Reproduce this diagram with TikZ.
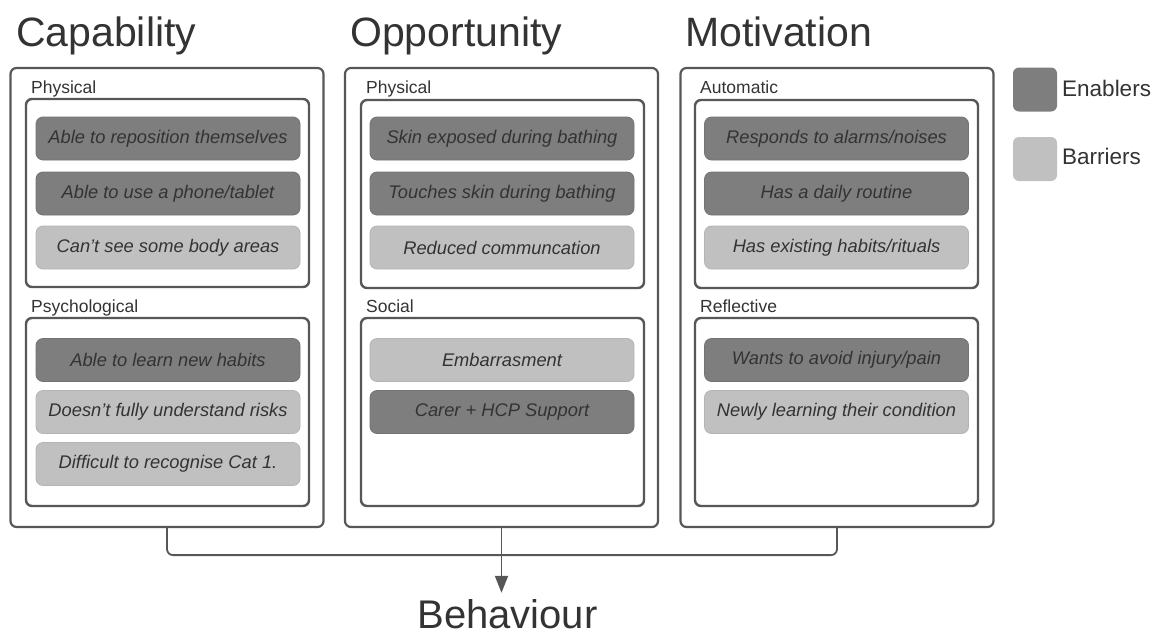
\documentclass[tikz,border=0pt]{standalone}
\usepackage{fontspec}
\setmainfont{Liberation Sans}[Ligatures=ResetAll]
\usetikzlibrary{arrows.meta}
\definecolor{enab}{HTML}{7E7E7E}
\definecolor{barr}{HTML}{C0C0C0}
\definecolor{edgec}{HTML}{575757}
\definecolor{txt}{HTML}{333333}
\begin{document}
\begin{tikzpicture}[x=1pt,y=-1pt,
  title/.style={anchor=base west, inner sep=0, text=txt, font=\fontsize{41}{45}\selectfont},
  sublabel/.style={anchor=base west, inner sep=0, text=txt, font=\fontsize{17.5}{20}\selectfont},
  legtext/.style={anchor=base west, inner sep=0, text=txt, font=\fontsize{22.5}{25}\selectfont},
  outerbox/.style={draw=edgec, line width=2.2pt, rounded corners=6pt, fill=white, minimum width=313pt, minimum height=459pt, inner sep=0},
  innerbox/.style={draw=edgec, line width=2.4pt, rounded corners=6pt, fill=white, minimum width=283pt, minimum height=188pt, inner sep=0},
  item/.style={rounded corners=7pt, minimum width=264pt, minimum height=43pt, inner sep=0, text=txt, font=\fontsize{18.3}{20}\selectfont\itshape},
  en/.style={item, fill=enab, draw=enab!92!black, line width=0.8pt},
  ba/.style={item, fill=barr, draw=barr!94!black, line width=0.8pt},
  legsq/.style={minimum width=44pt, minimum height=44pt, rounded corners=6pt, inner sep=0},
  conn/.style={draw=edgec, line width=1.8pt}
]
\useasboundingbox (0,0) rectangle (1158,637);

% titles
\node[title] (tcap) at (16,46) {Capability};
\node[title] (topp) at (350,46) {Opportunity};
\node[title] (tmot) at (685,46) {Motivation};

% outer boxes
\node[outerbox] (capbox) at (167,297.5) {};
\node[outerbox] (oppbox) at (501.5,297.5) {};
\node[outerbox] (motbox) at (837,297.5) {};

% inner boxes
\node[innerbox] (capphys) at (167.5,193) {};
\node[innerbox] (cappsy) at (167.5,412) {};
\node[innerbox] (oppphys) at (502.5,194) {};
\node[innerbox] (oppsoc) at (502.5,412) {};
\node[innerbox] (motaut) at (836.5,194) {};
\node[innerbox] (motref) at (836.5,412) {};

% sub labels
\node[sublabel] (lcp) at (31,93) {Physical};
\node[sublabel] (lcs) at (31,312) {Psychological};
\node[sublabel] (lop) at (366,93) {Physical};
\node[sublabel] (los) at (366,312) {Social};
\node[sublabel] (lma) at (700,93) {Automatic};
\node[sublabel] (lmr) at (700,312) {Reflective};

% Capability items
\node[en] (c1) at (168,138.5) {Able to reposition themselves};
\node[en] (c2) at (168,193.5) {Able to use a phone/tablet};
\node[ba] (c3) at (168,247.5) {Can't see some body areas};
\node[en] (c4) at (168,360) {Able to learn new habits};
\node[ba] (c5) at (168,412) {Doesn't fully understand risks};
\node[ba] (c6) at (168,464) {Difficult to recognise Cat 1.};

% Opportunity items
\node[en] (o1) at (502,138.5) {Skin exposed during bathing};
\node[en] (o2) at (502,193.5) {Touches skin during bathing};
\node[ba] (o3) at (502,247.5) {Reduced communcation};
\node[ba] (o4) at (502,360) {Embarrasment};
\node[en] (o5) at (502,412) {Carer + HCP Support};

% Motivation items
\node[en] (m1) at (836.5,138.5) {Responds to alarms/noises};
\node[en] (m2) at (836.5,193.5) {Has a daily routine};
\node[ba] (m3) at (836.5,247.5) {Has existing habits/rituals};
\node[en] (m4) at (836.5,360) {Wants to avoid injury/pain};
\node[ba] (m5) at (836.5,412) {Newly learning their condition};

% legend
\node[legsq, fill=enab] (lege) at (1035,89.5) {};
\node[legsq, fill=barr] (legb) at (1035,159) {};
\node[legtext] (lte) at (1062,96) {Enablers};
\node[legtext] (ltb) at (1062,164) {Barriers};

% behaviour
\node[anchor=base, inner sep=0, text=txt, font=\fontsize{40}{44}\selectfont] (behav) at (507.5,628) {Behaviour};

% connectors
\draw[conn, rounded corners=6pt] (capbox.south) -- ++(0,27) -| (motbox.south);
\draw[conn, shorten >=6pt, -{Triangle[length=17pt,width=13pt]}] (oppbox.south) -- (oppbox.south |- behav.north);
\end{tikzpicture}
\end{document}
